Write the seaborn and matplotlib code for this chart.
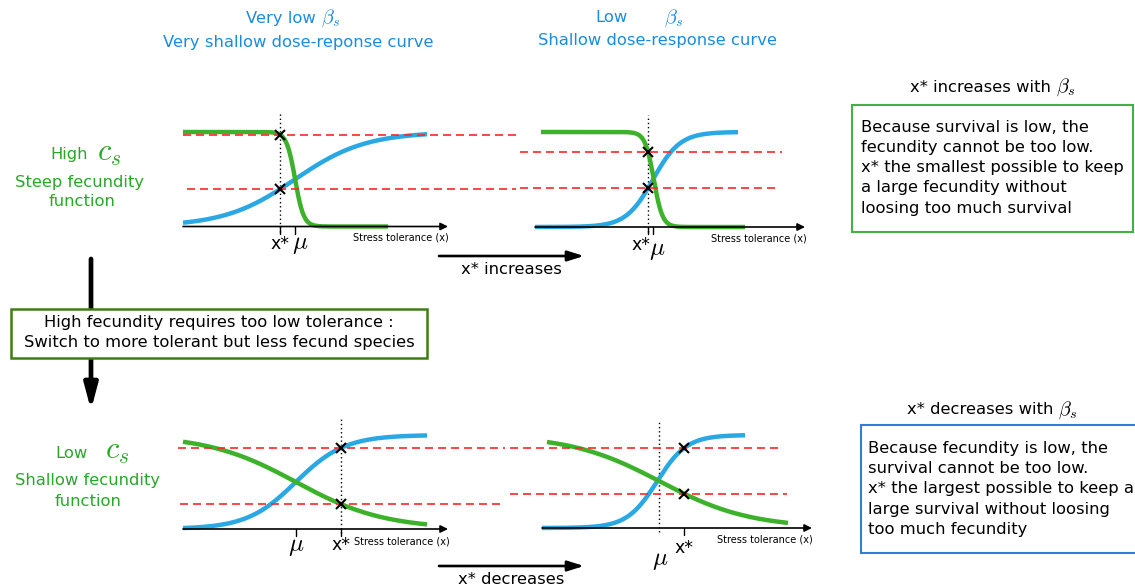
import numpy as np
import pandas as pd
import matplotlib
matplotlib.use("Agg")
import matplotlib.pyplot as plt
import seaborn as sns
from matplotlib.patches import Rectangle

# ---------------------------------------------------------------------------
# Model curves for the four scenarios (top-left, top-right, bottom-left,
# bottom-right).  Survival is an increasing dose-response curve (slope beta_s),
# fecundity a decreasing one (slope c_s).  x runs from 0 to 1 along each axis.
# ---------------------------------------------------------------------------
scenario = ["high c, very low beta", "high c, low beta",
            "low c, very low beta", "low c, low beta"]
survival_slope = [7.5, 20.0, 10.8, 18.0]
survival_mid = [0.423, 0.437, 0.426, 0.426]
fecundity_slope = [62.0, 62.0, 6.0, 6.0]
fecundity_mid = [0.423, 0.440, 0.426, 0.437]
mu_position = [0.423, 0.437, 0.426, 0.433]
x_star = [0.366, 0.419, 0.596, 0.526]
survival_range = [(0.0, 0.921), (0.0, 0.752), (0.0, 0.921), (0.0, 0.752)]
fecundity_range = [(0.0, 0.774), (0.022, 0.778), (0.0, 0.921), (0.0185, 0.911)]

column_titles = ["Very low", "Very shallow dose-reponse curve",
                 "Low", "Shallow dose-response curve"]
beta_symbol = r"$\beta_s$"
c_symbol = r"$c_s$"
row_titles = ["High", "Low"]
row_subtitles = [["Steep fecundity", "function"], ["Shallow fecundity", "function"]]
switch_text = ["High fecundity requires too low tolerance :",
               "Switch to more tolerant but less fecund species"]
top_note_title = "x* increases with"
top_note = ["Because survival is low, the", "fecundity cannot be too low.",
            "x* the smallest possible to keep", "a large fecundity without",
            "loosing too much survival"]
bottom_note_title = "x* decreases with"
bottom_note = ["Because fecundity is low, the", "survival cannot be too low.",
               "x* the largest possible to keep a", "large survival without loosing",
               "too much fecundity"]
arrow_labels = ["x* increases", "x* decreases"]
axis_label = "Stress tolerance (x)"

BLUE = "#2aa8e4"
GREEN = "#3cb22a"
RED = "#ff2626"
TITLE_BLUE = "#1a8ce0"
TEXT_GREEN = "#27a827"
FS = 11.8
BETA_FS = 14.5


def survival(x, slope, mid):
    return 1.0 / (1.0 + np.exp(-slope * (x - mid)))


def fecundity(x, slope, mid):
    return 1.0 / (1.0 + np.exp(slope * (x - mid)))


sns.set_theme(style="white")
plt.rcParams["font.family"] = ["DejaVu Sans"]
plt.rcParams["mathtext.fontset"] = "cm"
plt.rcParams["text.color"] = "black"

W, H = 1135, 587
fig = plt.figure(figsize=(W / 100, H / 100), dpi=100)

# full-figure layer for annotations, in pixel units
over = fig.add_axes([0, 0, 1, 1])
over.set_xlim(0, W)
over.set_ylim(H, 0)
over.axis("off")

# panel layout: axis origin (px), axis length, unit height, line spans, labels
layout = [
    dict(rect=(183, 226.5, 265, 94.5), fec_span=(0.0, 1.257), surv_span=(0.015, 1.257),
         dotted="xstar", dotted_y=(-0.058, 1.20), ticks=("xstar", "mu"),
         xstar_off=(0, -17.5), mu_off=(5, -18), lab_x=0.642, lab_off=-11.5),
    dict(rect=(535, 227, 270, 95), fec_span=(-0.056, 0.915), surv_span=(-0.056, 0.896),
         dotted="xstar", dotted_y=(-0.053, 1.18), ticks=("xstar", "mu"),
         xstar_off=(-7, -17.5), mu_off=(4, -23), lab_x=0.652, lab_off=-11.5),
    dict(rect=(183, 529, 265, 94), fec_span=(-0.011, 1.208), surv_span=(-0.019, 1.215),
         dotted="xstar", dotted_y=(-0.043, 1.18), ticks=("xstar", "mu"),
         xstar_off=(0, -16), mu_off=(0, -17), lab_x=0.645, lab_off=-12),
    dict(rect=(542, 528, 270, 93), fec_span=(-0.119, 0.907), surv_span=(-0.119, 0.893),
         dotted="mu", dotted_y=(-0.043, 1.14), ticks=("xstar",),
         xstar_off=(0, -20), mu_off=(1, -32), lab_x=0.648, lab_off=-12),
]

dash = (0, (4.8, 3.0))
for i, spec in enumerate(layout):
    x0, y0, w, h = spec["rect"]
    ax = fig.add_axes([x0 / W, 1 - y0 / H, w / W, h / H])

    # horizontal axis with arrow head
    ax.annotate("", xy=(1, 0), xytext=(0, 0),
                arrowprops=dict(arrowstyle="-|>", color="black", lw=1.2,
                                mutation_scale=11, shrinkA=0, shrinkB=0),
                annotation_clip=False)

    xs = np.linspace(*survival_range[i], 300)
    xf = np.linspace(*fecundity_range[i], 300)
    surv_df = pd.DataFrame({"x": xs, "y": survival(xs, survival_slope[i], survival_mid[i])})
    fec_df = pd.DataFrame({"x": xf, "y": fecundity(xf, fecundity_slope[i], fecundity_mid[i])})
    sns.lineplot(data=surv_df, x="x", y="y", ax=ax, color=BLUE, lw=3.2,
                 clip_on=False, solid_capstyle="butt", zorder=2)
    sns.lineplot(data=fec_df, x="x", y="y", ax=ax, color=GREEN, lw=3.2,
                 clip_on=False, solid_capstyle="butt", zorder=2)
    ax.set_xlim(0, 1)
    ax.set_ylim(0, 1)
    ax.axis("off")

    xsv = x_star[i]
    s_val = survival(xsv, survival_slope[i], survival_mid[i])
    f_val = fecundity(xsv, fecundity_slope[i], fecundity_mid[i])

    # levels reached at x*
    ax.plot(spec["fec_span"], [f_val, f_val], color=RED, lw=1.2, ls=dash,
            clip_on=False, zorder=3)
    ax.plot(spec["surv_span"], [s_val, s_val], color=RED, lw=1.2, ls=dash,
            clip_on=False, zorder=3)
    ax.plot([xsv, xsv], [s_val, f_val], ls="none", marker="x", ms=7, mew=1.5,
            color="black", clip_on=False, zorder=4)

    # dotted guide
    xd = xsv if spec["dotted"] == "xstar" else mu_position[i]
    ax.plot([xd, xd], spec["dotted_y"], color="black", lw=1.0, ls=(0, (1, 2)),
            clip_on=False, zorder=1)

    # ticks and their labels
    for t in spec["ticks"]:
        xt = xsv if t == "xstar" else mu_position[i]
        ax.plot([xt, xt], [0, -0.075], color="black", lw=1.0, clip_on=False)
    ax.annotate("x*", xy=(xsv, 0), xytext=spec["xstar_off"], textcoords="offset pixels",
                ha="center", va="center", fontsize=12.5, annotation_clip=False)
    ax.annotate(r"$\mu$", xy=(mu_position[i], 0), xytext=spec["mu_off"],
                textcoords="offset pixels", ha="center", va="center", fontsize=18,
                annotation_clip=False)
    ax.annotate(axis_label, xy=(spec["lab_x"], 0), xytext=(0, spec["lab_off"]),
                textcoords="offset pixels", ha="left", va="center", fontsize=7,
                annotation_clip=False)

# column headings
over.text(316, 18, column_titles[0], color=TITLE_BLUE, fontsize=FS, ha="right", va="center")
over.text(321, 18, beta_symbol, color=TITLE_BLUE, fontsize=BETA_FS, ha="left", va="center")
over.text(298, 43, column_titles[1], color=TITLE_BLUE, fontsize=FS, ha="center", va="center")
over.text(628, 18, column_titles[2], color=TITLE_BLUE, fontsize=FS, ha="right", va="center")
over.text(664, 18, beta_symbol, color=TITLE_BLUE, fontsize=BETA_FS, ha="left", va="center")
over.text(657, 40, column_titles[3], color=TITLE_BLUE, fontsize=FS, ha="center", va="center")

# row headings
over.text(88, 155, row_titles[0], color=TEXT_GREEN, fontsize=FS, ha="right", va="center")
over.text(97, 153, c_symbol, color=TEXT_GREEN, fontsize=22, ha="left", va="center")
over.text(80, 182, row_subtitles[0][0], color=TEXT_GREEN, fontsize=FS, ha="center", va="center")
over.text(82, 202, row_subtitles[0][1], color=TEXT_GREEN, fontsize=FS, ha="center", va="center")
over.text(88, 453, row_titles[1], color=TEXT_GREEN, fontsize=FS, ha="right", va="center")
over.text(105, 451, c_symbol, color=TEXT_GREEN, fontsize=22, ha="left", va="center")
over.text(88, 481, row_subtitles[1][0], color=TEXT_GREEN, fontsize=FS, ha="center", va="center")
over.text(88, 502, row_subtitles[1][1], color=TEXT_GREEN, fontsize=FS, ha="center", va="center")

# vertical switch arrow and its box
over.annotate("", xy=(91, 410), xytext=(91, 259),
              arrowprops=dict(arrowstyle="-|>,head_length=0.75,head_width=0.2",
                              color="black", lw=3.4, mutation_scale=20,
                              shrinkA=0, shrinkB=0), zorder=2)
over.add_patch(Rectangle((11, 309), 416, 49, facecolor="white", edgecolor="#3d7d16",
                         lw=1.8, zorder=5))
over.text(219, 322, switch_text[0], fontsize=FS, ha="center", va="center", zorder=6)
over.text(219, 342, switch_text[1], fontsize=FS, ha="center", va="center", zorder=6)

# horizontal arrows between columns
for yl, label in zip((256, 566), arrow_labels):
    over.annotate("", xy=(584, yl), xytext=(439, yl),
                  arrowprops=dict(arrowstyle="-|>,head_length=0.7,head_width=0.22",
                                  color="black", lw=1.9, mutation_scale=14,
                                  shrinkA=0, shrinkB=0))
    over.text(511, yl + 13, label, fontsize=FS, ha="center", va="center")

# explanatory notes on the right
over.text(1051, 87, top_note_title, fontsize=FS, ha="right", va="center")
over.text(1056, 87, beta_symbol, fontsize=BETA_FS, ha="left", va="center")
over.add_patch(Rectangle((852, 105), 281, 127, facecolor="white", edgecolor="#45b045", lw=1.5))
for k, line in enumerate(top_note):
    over.text(861, 127 + 20.3 * k, line, fontsize=FS, ha="left", va="center")

over.text(1053, 410, bottom_note_title, fontsize=FS, ha="right", va="center")
over.text(1058, 410, beta_symbol, fontsize=BETA_FS, ha="left", va="center")
over.add_patch(Rectangle((861, 425), 290, 128, facecolor="white", edgecolor="#2f7fd3", lw=1.5))
for k, line in enumerate(bottom_note):
    over.text(868, 448 + 20.4 * k, line, fontsize=FS, ha="left", va="center")

fig.savefig("out.png", dpi=100)
